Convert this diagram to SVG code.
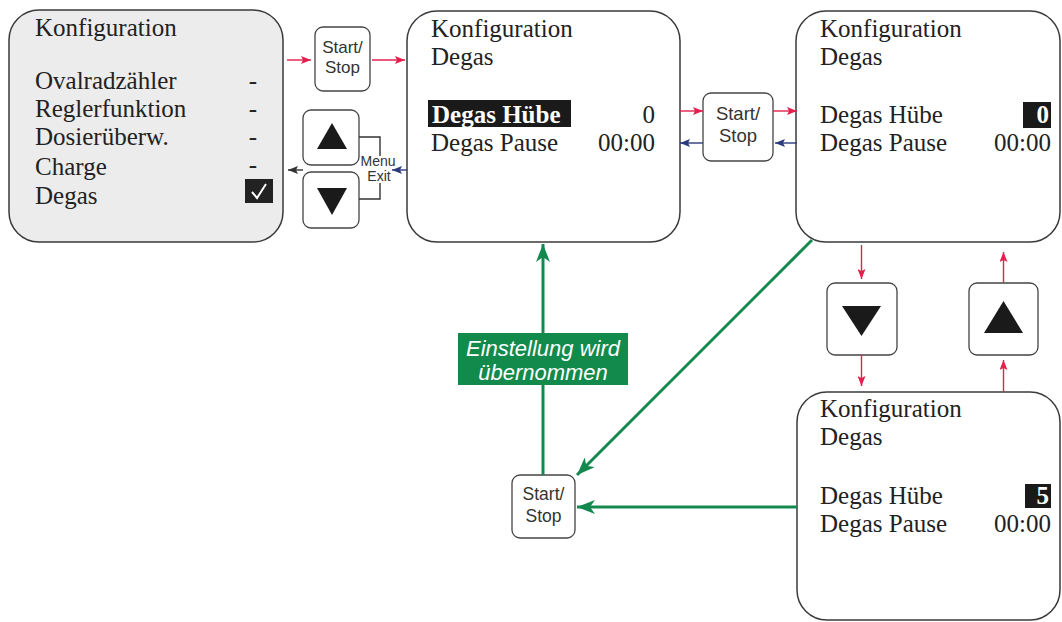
<svg xmlns="http://www.w3.org/2000/svg" width="1062" height="622" viewBox="0 0 1062 622">
<defs>
<style>
.box{stroke:#3a3a3a;stroke-width:1.5;fill:#fff}
.grey{fill:#ececec}
.btn{stroke:#444;stroke-width:1.3;fill:#fff}
.t{font-family:"Liberation Serif","Times New Roman",serif;font-size:25px;fill:#222}
.b{font-weight:bold}
.w{fill:#fff}
.s{font-family:"Liberation Sans",Arial,sans-serif;fill:#333;text-anchor:middle}
.r{text-anchor:end}
.red{stroke:#e4204c;stroke-width:1.4;fill:none}
.blue{stroke:#2a3a7c;stroke-width:1.4;fill:none}
.blk{stroke:#333;stroke-width:1.4;fill:none}
.grn{stroke:#13894f;stroke-width:3;fill:none}
.tri{fill:#1a1a1a}
</style>
<marker id="mr" viewBox="0 0 10 8" refX="10" refY="4" markerWidth="11" markerHeight="8" markerUnits="userSpaceOnUse" orient="auto"><path d="M0,0 L10,4 L0,8 L2,4 Z" fill="#e4204c"/></marker>
<marker id="mb" viewBox="0 0 10 8" refX="10" refY="4" markerWidth="11" markerHeight="8" markerUnits="userSpaceOnUse" orient="auto"><path d="M0,0 L10,4 L0,8 L2,4 Z" fill="#2a3a7c"/></marker>
<marker id="mk" viewBox="0 0 10 8" refX="10" refY="4" markerWidth="10" markerHeight="8" markerUnits="userSpaceOnUse" orient="auto"><path d="M0,0 L10,4 L0,8 L2,4 Z" fill="#333"/></marker>
<marker id="mg" viewBox="0 0 18 14" refX="18" refY="7" markerWidth="18" markerHeight="14" markerUnits="userSpaceOnUse" orient="auto"><path d="M0,0 L18,7 L0,14 L5,7 Z" fill="#13894f"/></marker>
</defs>
<rect width="1062" height="622" fill="#fff"/>

<g id="konfiguration-main">
<rect class="box grey" x="9" y="10" width="274" height="232" rx="30"/>
<text class="t" x="35" y="36">Konfiguration</text>
<text class="t" x="35" y="89">Ovalradzähler</text>
<text class="t" x="35" y="117">Reglerfunktion</text>
<text class="t" x="35" y="145">Dosierüberw.</text>
<text class="t" x="35" y="175">Charge</text>
<text class="t" x="35" y="204">Degas</text>
<text class="t" x="253" y="89" text-anchor="middle">-</text>
<text class="t" x="253" y="117" text-anchor="middle">-</text>
<text class="t" x="253" y="145" text-anchor="middle">-</text>
<text class="t" x="253" y="173" text-anchor="middle">-</text>
<rect x="245" y="179" width="28" height="24" fill="#222"/>
<path d="M252,192 L257,198 L266,184" stroke="#fff" stroke-width="2" fill="none"/>
</g>

<g id="btn-start1">
<rect class="btn" x="315" y="27" width="55" height="64" rx="8"/>
<text class="s" x="342.5" y="53" font-size="17">Start/</text>
<text class="s" x="342.5" y="73" font-size="17">Stop</text>
</g>

<g id="btn-up1">
<rect class="btn" x="303" y="110" width="56" height="55" rx="8"/>
<path class="tri" d="M332,123 L347,149 L317,149 Z"/>
</g>
<g id="btn-down1">
<rect class="btn" x="303" y="172" width="56" height="56" rx="8"/>
<path class="tri" d="M317,188 L347,188 L332,215 Z"/>
</g>
<g id="menu-exit">
<path class="blk" d="M359,137 H380 V156 M380,183 V199 H359" stroke-width="1.2"/>
<text class="s" x="378" y="166" font-size="14">Menu</text>
<text class="s" x="379" y="181" font-size="14">Exit</text>
</g>

<g id="konfiguration-degas-1">
<rect class="box" x="407" y="11" width="273" height="231" rx="30"/>
<text class="t" x="431" y="37">Konfiguration</text>
<text class="t" x="431" y="65">Degas</text>
<rect x="428" y="100" width="143" height="27" fill="#1a1a1a"/>
<text class="t b w" x="432" y="123">Degas Hübe</text>
<text class="t r" x="655" y="123">0</text>
<text class="t" x="431" y="151">Degas Pause</text>
<text class="t r" x="655" y="151">00:00</text>
</g>

<g id="btn-start2">
<rect class="btn" x="703" y="93" width="70" height="68" rx="8"/>
<text class="s" x="738" y="120" font-size="18.5">Start/</text>
<text class="s" x="738" y="142" font-size="18.5">Stop</text>
</g>

<g id="konfiguration-degas-2">
<rect class="box" x="796" y="11" width="264" height="231" rx="30"/>
<text class="t" x="820" y="37">Konfiguration</text>
<text class="t" x="820" y="65">Degas</text>
<text class="t" x="820" y="123">Degas Hübe</text>
<rect x="1023" y="102" width="28" height="26" fill="#1a1a1a"/>
<text class="t b w r" x="1049" y="123">0</text>
<text class="t" x="820" y="151">Degas Pause</text>
<text class="t r" x="1051" y="151">00:00</text>
</g>

<g id="btn-down2">
<rect class="btn" x="827" y="283" width="70" height="72" rx="8"/>
<path class="tri" d="M842,306 L881,306 L861.5,336 Z"/>
</g>
<g id="btn-up2">
<rect class="btn" x="969" y="283" width="69" height="72" rx="8"/>
<path class="tri" d="M1003.5,301 L1023,333 L984,333 Z"/>
</g>

<g id="konfiguration-degas-3">
<rect class="box" x="797" y="392" width="263" height="228" rx="30"/>
<text class="t" x="820" y="417">Konfiguration</text>
<text class="t" x="820" y="445">Degas</text>
<text class="t" x="820" y="504">Degas Hübe</text>
<rect x="1025" y="484" width="26" height="24" fill="#1a1a1a"/>
<text class="t b w r" x="1049" y="504">5</text>
<text class="t" x="820" y="532">Degas Pause</text>
<text class="t r" x="1051" y="532">00:00</text>
</g>

<g id="btn-start3">
<rect class="btn" x="512" y="475" width="63" height="63" rx="8"/>
<text class="s" x="543.5" y="500" font-size="17.5">Start/</text>
<text class="s" x="543.5" y="522" font-size="17.5">Stop</text>
</g>

<g id="connectors">
<line class="red" x1="287" y1="60" x2="311" y2="60" marker-end="url(#mr)"/>
<line class="red" x1="372" y1="60" x2="405" y2="60" marker-end="url(#mr)"/>
<line class="red" x1="680" y1="111" x2="703" y2="111" marker-end="url(#mr)"/>
<line class="red" x1="773" y1="111" x2="797" y2="111" marker-end="url(#mr)"/>
<line class="blue" x1="703" y1="143" x2="680" y2="143" marker-end="url(#mb)"/>
<line class="blue" x1="797" y1="143" x2="775" y2="143" marker-end="url(#mb)"/>
<line class="blue" x1="407" y1="170" x2="392" y2="170" marker-end="url(#mb)"/>
<line class="blk" x1="303" y1="170" x2="288" y2="170" marker-end="url(#mk)"/>
<line class="red" x1="861.5" y1="245" x2="861.5" y2="279" marker-end="url(#mr)"/>
<line class="red" x1="861.5" y1="355" x2="861.5" y2="386" marker-end="url(#mr)"/>
<line class="red" x1="1003.5" y1="392" x2="1003.5" y2="360" marker-end="url(#mr)"/>
<line class="red" x1="1003.5" y1="283" x2="1003.5" y2="252" marker-end="url(#mr)"/>
<line class="grn" x1="543" y1="475" x2="543" y2="244" marker-end="url(#mg)"/>
<line class="grn" x1="812" y1="240" x2="577" y2="475" marker-end="url(#mg)"/>
<line class="grn" x1="797" y1="507" x2="577" y2="507" marker-end="url(#mg)"/>
</g>

<g id="label-uebernommen">
<rect x="458" y="333" width="170" height="52" fill="#128a4c"/>
<text x="543" y="356" font-family="'Liberation Sans',Arial,sans-serif" font-size="22" font-style="italic" fill="#fff" text-anchor="middle">Einstellung wird</text>
<text x="543" y="380" font-family="'Liberation Sans',Arial,sans-serif" font-size="22" font-style="italic" fill="#fff" text-anchor="middle">übernommen</text>
</g>
</svg>
